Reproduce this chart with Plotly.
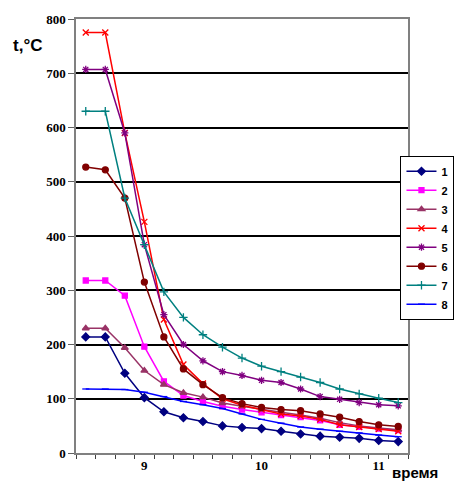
import plotly.graph_objects as go

x_idx = list(range(17))
x_tick_pos = [3, 9, 15]
x_tick_text = ["9", "10", "11"]

s1 = [214, 214, 147, 102, 76, 65, 58, 50, 47, 45, 40, 35, 31, 29, 27, 23, 21]
s2 = [318, 318, 290, 196, 132, 106, 95, 86, 80, 75, 70, 66, 60, 52, 48, 45, 42]
s3 = [230, 230, 194, 152, 126, 111, 103, 92, 86, 80, 75, 70, 64, 56, 50, 46, 43]
s4 = [775, 775, 590, 426, 246, 163, 128, 100, 88, 80, 72, 68, 62, 52, 48, 44, 40]
s5 = [707, 707, 590, 384, 255, 200, 170, 150, 143, 134, 130, 118, 104, 99, 93, 89, 87]
s6 = [527, 522, 470, 315, 214, 155, 126, 102, 91, 84, 80, 78, 72, 66, 58, 52, 49]
s7 = [630, 630, 470, 384, 297, 250, 218, 195, 175, 160, 150, 140, 130, 118, 109, 101, 93]
s8 = [118, 118, 117, 112, 104, 95, 89, 82, 72, 62, 55, 48, 44, 40, 37, 33, 30]

names = ["1", "2", "3", "4", "5", "6", "7", "8"]
series = [s1, s2, s3, s4, s5, s6, s7, s8]
colors = ["#000080", "#FF00FF", "#993366", "#FF0000", "#800080", "#800000", "#008080", "#0000FF"]
symbols = ["diamond", "square", "triangle-up", "x-thin-open", "asterisk-open", "circle", "cross-thin-open", "line-ew-open"]
sizes = [6, 5, 6, 6, 6, 6, 6, 5]

fig = go.Figure()
for n, s, c, sym, sz in zip(names, series, colors, symbols, sizes):
    fig.add_trace(go.Scatter(
        x=x_idx, y=s, name=n, mode="lines+markers",
        line=dict(color=c, width=1.5),
        marker=dict(symbol=sym, size=sz, color=c, line=dict(color=c, width=1.3)),
    ))

fig.update_layout(
    width=466, height=486,
    margin=dict(l=76, r=45, t=19, b=32.5),
    paper_bgcolor="white", plot_bgcolor="white",
    showlegend=True,
    legend=dict(
        x=1.14, xanchor="right", y=0.685, yanchor="top",
        bordercolor="black", borderwidth=1, bgcolor="white",
        font=dict(family="Liberation Sans", size=11, color="black", weight="bold"),
        itemwidth=30, tracegroupgap=0,
    ),
    xaxis=dict(
        range=[-0.5, 16.5], tickmode="array", tickvals=x_tick_pos, ticktext=x_tick_text,
        ticks="", showgrid=False, zeroline=False,
        showline=True, linecolor="#808080", linewidth=1.5, mirror=True,
        tickfont=dict(family="Liberation Serif", size=13, color="black", weight="bold"),
        minor=dict(tickmode="linear", tick0=-0.5, dtick=1, ticks="outside", ticklen=4,
                   tickcolor="#404040", tickwidth=1, showgrid=False),
    ),
    yaxis=dict(
        range=[0, 800], dtick=100, tick0=0,
        ticks="outside", ticklen=6, tickcolor="#606060",
        showgrid=True, gridcolor="black", gridwidth=2, zeroline=False,
        showline=True, linecolor="#808080", linewidth=1.5, mirror=True,
        tickfont=dict(family="Liberation Serif", size=13, color="black", weight="bold"),
    ),
    annotations=[
        dict(text="t,°C", xref="paper", yref="paper", x=-0.195, y=0.94,
             xanchor="left", yanchor="middle", showarrow=False,
             font=dict(family="Liberation Sans", size=17, color="black", weight="bold")),
        dict(text="время", xref="paper", yref="paper", x=0.945, y=-0.045,
             xanchor="left", yanchor="middle", showarrow=False,
             font=dict(family="Liberation Sans", size=15, color="black", weight="bold")),
    ],
)

fig.write_html("out.html")
